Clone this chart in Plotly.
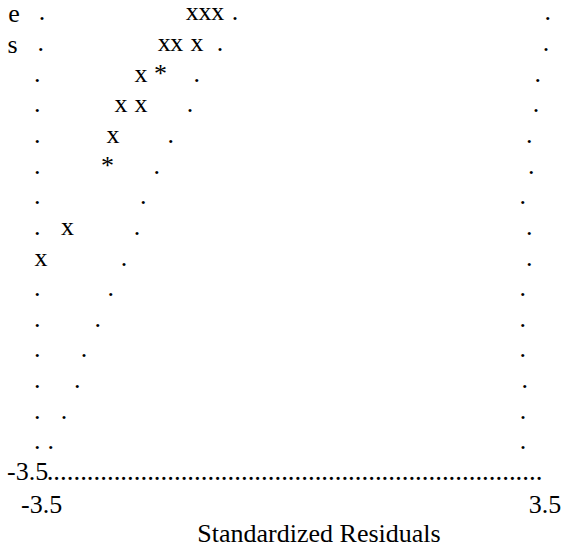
import plotly.graph_objects as go

FONT = "Liberation Serif"
SIZE = 26
INK = "black"

# normal-score level of each character row, bottom (axis) row first
row_y = [-3.5, -3.316, -3.132, -2.947, -2.763, -2.579, -2.395, -2.211,
         -2.026, -1.842, -1.658, -1.474, -1.290, -1.105, -0.921, -0.737]

# observed points drawn as "x" (standardized residual, row index)
x_pts_res = [-1.405, -1.229, -1.052, -1.795, -1.621, -1.340,
             -2.119, -2.397, -2.119, -2.508, -3.141, -3.510]
x_pts_row = [15, 15, 15, 14, 14, 14, 13, 12, 12, 11, 8, 7]

# overlapping points drawn as "*"
star_res = [-1.846, -2.585]
star_row = [13, 10]

# reference line dots
ref_res = [-0.812, -1.020, -1.344, -1.437, -1.706, -1.901, -2.087, -2.175,
           -2.355, -2.540, -2.721, -2.912, -3.005, -3.190, -3.375]
ref_row = [15, 14, 13, 12, 11, 10, 9, 8, 7, 6, 5, 4, 3, 2, 1]

# left frame dots
left_res = [-3.496, -3.514, -3.561, -3.561, -3.561, -3.561, -3.561,
            -3.561, -3.561, -3.561, -3.561, -3.561, -3.561, -3.561]
left_row = [15, 14, 13, 12, 11, 10, 9, 8, 6, 5, 4, 3, 2, 1]

# right frame dots
right_res = [3.538, 3.514, 3.398, 3.375, 3.282, 3.310, 3.190, 3.282,
             3.282, 3.190, 3.190, 3.190, 3.218, 3.194, 3.194]
right_row = [15, 14, 13, 12, 11, 10, 9, 8, 7, 6, 5, 4, 3, 2, 1]

# axis texts
x_tick_vals = [-3.5, 3.5]
x_tick_text = ["-3.5", "3.5"]
y_tick_text = "-3.5"
x_title = "Standardized Residuals"
y_title_tail = ["e", "s"]
y_title_tail_x = [-3.885, -3.906]
y_title_tail_y = [-0.747, -0.935]
axis_dots = 74


def ys(rows):
    return [row_y[r] for r in rows]


fig = go.Figure()

font = dict(family=FONT, size=SIZE, color=INK)


def add_text(xs, yv, texts, pos="middle center", f=font):
    fig.add_trace(go.Scatter(
        x=xs, y=yv, mode="text", text=texts, textposition=pos,
        textfont=f, hoverinfo="skip", cliponaxis=False, showlegend=False))


add_text(left_res, ys(left_row), ["."] * len(left_res))
add_text(ref_res, ys(ref_row), ["."] * len(ref_res))
add_text(right_res, ys(right_row), ["."] * len(right_res))
add_text(x_pts_res, ys(x_pts_row), ["x"] * len(x_pts_res))
add_text(star_res, ys(star_row), ["*"] * len(star_res))

# vertical axis title (only its last letters are visible)
add_text(y_title_tail_x, y_title_tail_y, y_title_tail)

# bottom frame row: y tick label and dotted axis line
add_text([-3.695], [row_y[0]], [y_tick_text])
add_text([-3.431], [row_y[0]], ["." * axis_dots], pos="middle right",
         f=dict(family=FONT, size=26.8, color=INK))

# x tick labels and x title
add_text(x_tick_vals, [-3.696, -3.696], x_tick_text)
add_text([0.357], [-3.872], [x_title])

fig.update_layout(
    width=563, height=547,
    margin=dict(l=0, r=0, t=0, b=0),
    paper_bgcolor="white", plot_bgcolor="white",
    showlegend=False,
    xaxis=dict(range=[-4.080, 3.7504], visible=False, fixedrange=True),
    yaxis=dict(range=[-3.9414, -0.6542], visible=False, fixedrange=True),
)

fig.write_html(
    "out.html",
    config={"displayModeBar": False},
    post_script="document.body.style.margin='0';document.body.style.overflow='hidden';",
)
